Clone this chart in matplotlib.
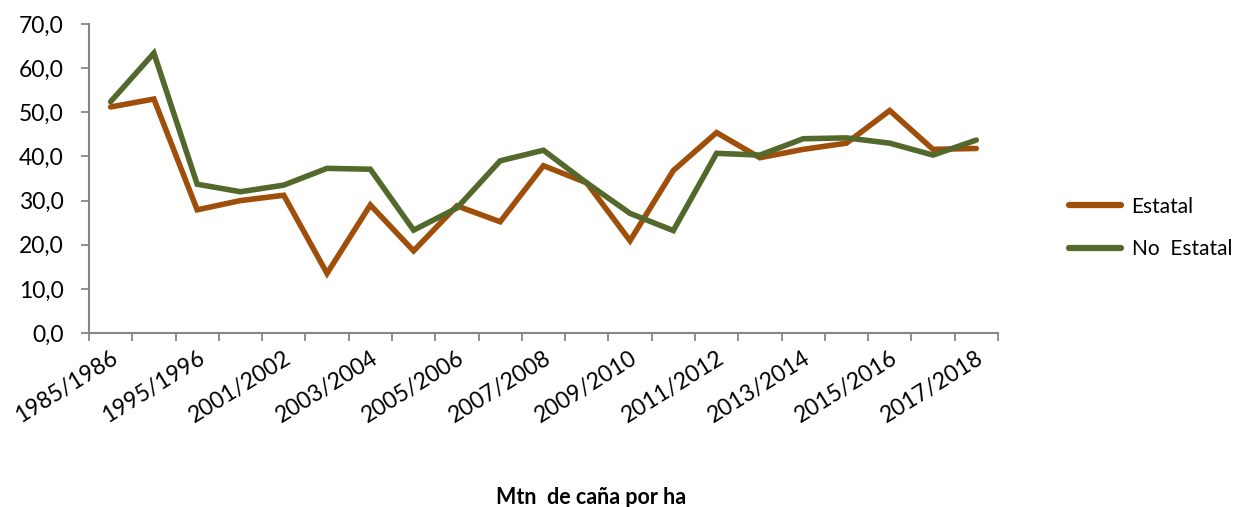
import matplotlib
matplotlib.use("Agg")
import matplotlib.pyplot as plt
import numpy as np
from matplotlib.ticker import FixedLocator, FuncFormatter

plt.rcParams['font.family'] = ['Lato', 'DejaVu Sans']

seasons = [
    "1985/1986", "1990/1991", "1995/1996", "2000/2001", "2001/2002",
    "2002/2003", "2003/2004", "2004/2005", "2005/2006", "2006/2007",
    "2007/2008", "2008/2009", "2009/2010", "2010/2011", "2011/2012",
    "2012/2013", "2013/2014", "2014/2015", "2015/2016", "2016/2017",
    "2017/2018",
]
estatal = [51.2, 53.0, 27.9, 30.0, 31.2, 13.5, 29.0, 18.6, 28.8, 25.2,
           37.9, 34.0, 20.9, 36.8, 45.4, 39.7, 41.6, 43.0, 50.4, 41.6, 41.8]
no_estatal = [52.4, 63.4, 33.7, 32.0, 33.5, 37.3, 37.1, 23.3, 28.3, 39.0,
              41.4, 34.0, 27.1, 23.2, 40.7, 40.3, 44.0, 44.2, 43.0, 40.3, 43.7]
series_names = ["Estatal", "No  Estatal"]
series_colors = ["#A04F0B", "#53682B"]
x_title = "Mtn  de caña por ha"

fig = plt.figure(figsize=(12.34, 5.07), dpi=100)
ax = fig.add_axes([0.0721, 0.3432, 0.7366, 0.6095])

x = np.arange(len(seasons))
for vals, name, col in zip([estatal, no_estatal], series_names, series_colors):
    ax.plot(x, vals, color=col, lw=4.0, label=name,
            solid_joinstyle='miter', solid_capstyle='round')

ax.set_xlim(-0.5, len(seasons) - 0.5)
ax.set_ylim(0, 70)
ax.set_yticks(np.arange(0, 71, 10))
ax.yaxis.set_major_formatter(FuncFormatter(lambda v, p: f"{v:.1f}".replace(".", ",")))

# category labels on every other season, tick marks between categories
label_idx = list(range(0, len(seasons), 2))
ax.set_xticks(label_idx)
ax.set_xticklabels([seasons[i] for i in label_idx], rotation=32,
                   ha='right', va='top', rotation_mode='anchor', fontsize=16.5)
ax.tick_params(axis='x', which='major', length=0, pad=10)
ax.xaxis.set_minor_locator(FixedLocator(np.arange(-0.5, len(seasons), 1.0)))
ax.tick_params(axis='x', which='minor', length=6, width=1.3, color='#868686', direction='out')
ax.tick_params(axis='y', length=6, width=1.3, color='#868686', labelsize=16.5, pad=12)

for s in ['top', 'right']:
    ax.spines[s].set_visible(False)
for s in ['left', 'bottom']:
    ax.spines[s].set_color('#868686')
    ax.spines[s].set_linewidth(1.5)

leg = fig.legend(loc='center left', bbox_to_anchor=(1069 / 1234, 1 - 228 / 507),
                 frameon=False, fontsize=15, handlelength=2.5, labelspacing=1.1,
                 handletextpad=0.5, borderpad=0, borderaxespad=0)
for h in leg.get_lines():
    h.set_linewidth(4.5)
    h.set_solid_capstyle('round')

fig.text(591 / 1234, 1 - 497 / 507, x_title, ha='center', va='center',
         fontsize=15.5, fontweight='bold')

fig.savefig("out.png", dpi=100)
